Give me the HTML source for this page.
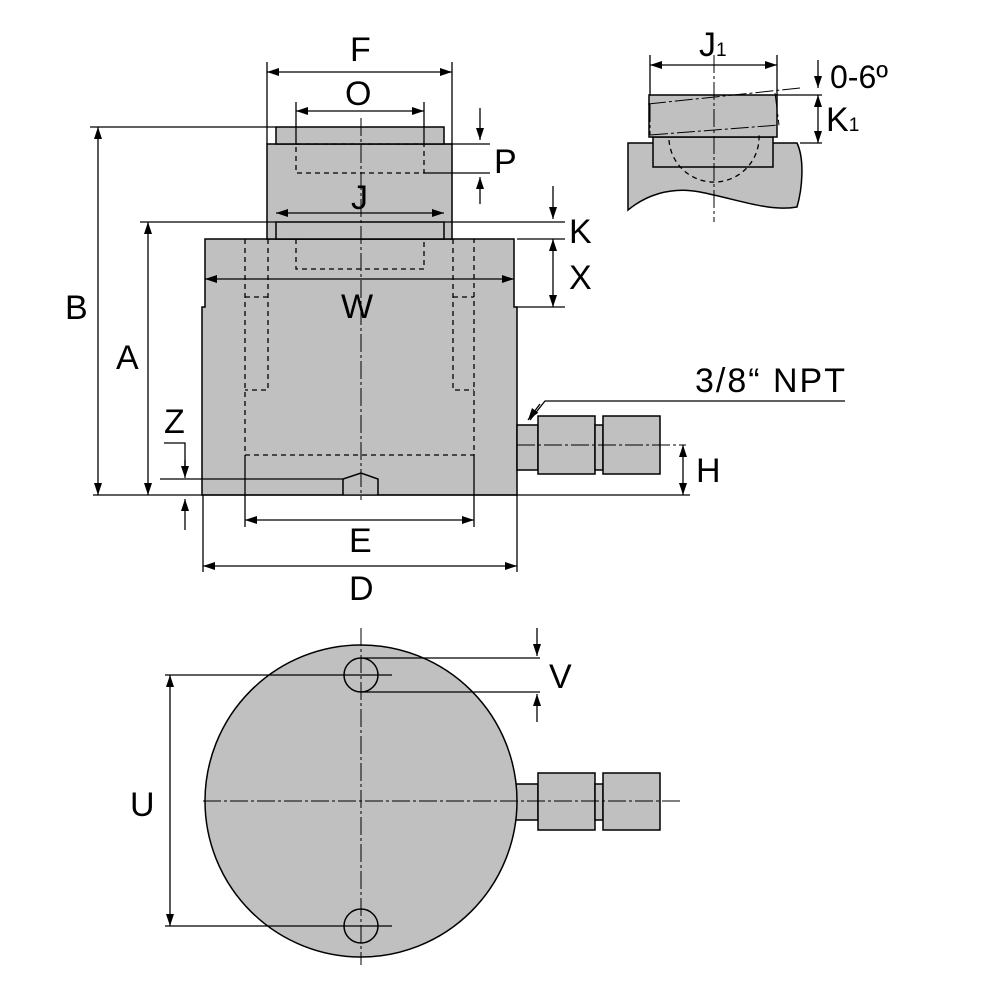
<!DOCTYPE html>
<html><head><meta charset="utf-8"><style>
html,body{margin:0;padding:0;background:#fff}
svg{display:block}
text{font-family:"Liberation Sans",sans-serif;fill:#000}
</style></head><body>
<svg width="1000" height="1000" viewBox="0 0 1000 1000" xmlns="http://www.w3.org/2000/svg">
<defs>
<marker id="a" viewBox="0 0 12 8" refX="12" refY="4" markerWidth="12" markerHeight="8" orient="auto-start-reverse" markerUnits="userSpaceOnUse"><path d="M0,0 L12,4 L0,8 z" fill="#000"/></marker>
</defs>
<g stroke="#000" stroke-width="1.5" fill="#c0c0c0">
<path d="M205,239 H514 V307 H517 V495 H202 V307 H205 Z"/>
<rect x="267" y="144" width="185" height="95"/>
<rect x="276" y="127" width="168" height="17"/>
<rect x="276" y="222" width="168" height="17"/>
<rect x="517" y="425" width="21" height="45"/>
<rect x="538" y="416" width="57" height="58"/>
<rect x="595" y="425" width="8" height="45"/>
<rect x="603" y="416" width="57" height="58"/>
<path d="M343,495 V479 L361,473 L378,479 V495"/>
<rect x="510" y="784" width="28" height="36"/>
<circle cx="361" cy="801" r="156"/>
<rect x="538" y="773" width="57" height="57"/>
<rect x="595" y="784" width="8" height="36"/>
<rect x="603" y="773" width="57" height="57"/>
<circle cx="361" cy="675" r="17" fill="none"/>
<circle cx="361" cy="926" r="17" fill="none"/>
<path d="M628,143 H797 C805,160 802,190 797,207 C770,212 740,200 700,192 C670,186 645,196 628,210 Z"/>
<rect x="653" y="137" width="120" height="30"/>
<path d="M649,95 H777 V137 H649 Z" />
</g>
<g fill="none" stroke="#000" stroke-width="1.3" stroke-dasharray="5,4">
<rect x="296" y="144" width="128" height="29"/>
<path d="M296,239 V269 H424 V239"/>
<path d="M245,239 V455 H474 V239"/>
<path d="M268,239 V390 H245 M245,297 H268"/>
<path d="M453,239 V390 H474 M453,297 H474"/>
<path d="M669,140 A45,45 0 0 0 759,134"/>
</g>
<g fill="none" stroke="#000" stroke-width="1" stroke-dasharray="18,3,3,3">
<path d="M361,118 V500"/>
<path d="M517,445 H686"/>
<path d="M361,628 V965"/>
<path d="M203,801 H680"/>
<path d="M714,55 V222"/>
<path d="M648,104 L800,88 M650,135 L779,125 M650,104 L650,135 M775,93 L779,125"/>
</g>
<g fill="none" stroke="#000" stroke-width="1.3">
<path d="M267,62 V144 M452,62 V144 M296,102 V144 M424,102 V144"/>
<path d="M90,127 H276 M140,222 H276 M444,144 H490 M424,173 H490 M444,222 H565 M517,239 H565 M517,307 H565"/>
<path d="M93,495 H690 M160,479 H343"/>
<path d="M203,495 V572 M517,495 V572 M245,455 V527 M474,455 V527"/>
<path d="M650,55 V95 M777,55 V95 M777,95 H822 M800,143 H822"/>
<path d="M165,675 H392 M165,926 H392 M361,658 H540 M361,692 H540"/>
<path d="M530,420 L545,401 H845"/>
<path d="M164,443 H185 V470"/>
</g>
<g fill="none" stroke="#000" stroke-width="1.3" marker-start="url(#a)" marker-end="url(#a)">
<path d="M267,72 H452"/>
<path d="M296,111 H424"/>
<path d="M276,213 H444"/>
<path d="M205,279 H514"/>
<path d="M98,127 V495"/>
<path d="M148,222 V495"/>
<path d="M553,239 V307"/>
<path d="M683,445 V495"/>
<path d="M245,520 H474"/>
<path d="M203,566 H517"/>
<path d="M650,65 H777"/>
<path d="M818,95 V143"/>
<path d="M170,675 V926"/>
</g>
<g fill="none" stroke="#000" stroke-width="1.3" marker-end="url(#a)">
<path d="M480,108 V140"/><path d="M480,204 V177"/>
<path d="M553,186 V219"/>
<path d="M185,460 V478"/><path d="M185,530 V499"/>
<path d="M537,628 V656"/><path d="M537,722 V694"/>
<path d="M818,60 V88"/>
<path d="M540,404 L528,420"/>
</g>
<g font-size="34">
<text x="350" y="61">F</text>
<text x="345" y="105">O</text>
<text x="351" y="209">J</text>
<text x="341" y="318">W</text>
<text x="494" y="173">P</text>
<text x="569" y="243">K</text>
<text x="569" y="289">X</text>
<text x="65" y="319">B</text>
<text x="116" y="369">A</text>
<text x="164" y="433">Z</text>
<text x="696" y="482">H</text>
<text x="349" y="552">E</text>
<text x="349" y="600">D</text>
<text x="549" y="688">V</text>
<text x="130" y="816">U</text>
<text x="695" y="392" textLength="150">3/8“ NPT</text>
<text x="699" y="56">J<tspan font-size="19">1</tspan></text>
<text x="826" y="131">K<tspan font-size="19">1</tspan></text>
<text x="830" y="88" font-size="32">0-6º</text>
</g>
</svg>
</body></html>
